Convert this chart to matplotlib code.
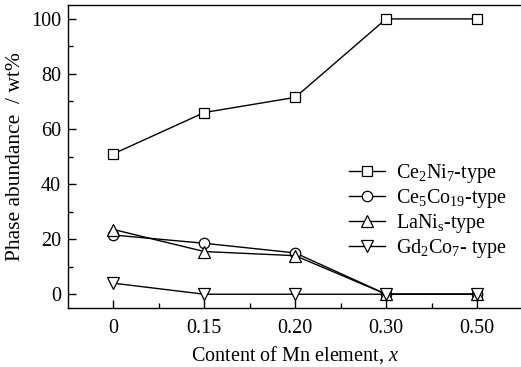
import numpy as np
import matplotlib
matplotlib.use("Agg")
import matplotlib.pyplot as plt
from matplotlib.ticker import MultipleLocator

plt.rcParams["font.family"] = ["Liberation Serif", "DejaVu Serif"]
plt.rcParams["mathtext.fontset"] = "custom"
plt.rcParams["mathtext.rm"] = "Liberation Serif"
plt.rcParams["mathtext.it"] = "Liberation Serif:italic"

# Mn content (categorical axis) and phase abundance in wt%
mn_labels = ["0", "0.15", "0.20", "0.30", "0.50"]
ce2ni7 = [51, 66, 71.5, 100, 100]
ce5co19 = [21.5, 18.5, 15, 0, 0]
lani5 = [23.5, 15.5, 14, 0, 0]
gd2co7 = [4, 0, 0, 0, 0]

series = [
    (ce2ni7, "s", 6.5, r"Ce$_2$Ni$_7$-type"),
    (ce5co19, "o", 7.5, r"Ce$_5$Co$_{19}$-type"),
    (lani5, "^", 8, r"LaNi$_\mathrm{s}$-type"),
    (gd2co7, "v", 8, r"Gd$_2$Co$_7$- type"),
]

fig = plt.figure(figsize=(5.21, 3.67), dpi=100)
ax = fig.add_axes([68 / 521, 0.1608, 454.5 / 521, 0.8252])
x = np.arange(len(mn_labels))

for vals, mk, ms, lab in series:
    ax.plot(x, vals, color="black", lw=1.0, marker=mk, markersize=ms,
            markerfacecolor="white", markeredgecolor="black", markeredgewidth=0.9,
            label=lab)

ax.set_xlim(-0.5, 4.5)
ax.set_xticks(x)
ax.set_xticklabels(mn_labels)
ax.set_xticks(x[:-1] + 0.5, minor=True)
ax.yaxis.set_major_locator(MultipleLocator(20))
ax.yaxis.set_minor_locator(MultipleLocator(10))
ax.set_ylim(-5, 105)
ax.tick_params(which="both", direction="in", labelsize=14.5, width=1.0)
ax.tick_params(which="major", length=6)
ax.tick_params(which="minor", length=3.5)
ax.tick_params(axis="x", pad=8)
ax.tick_params(axis="y", pad=5)
for sp in ax.spines.values():
    sp.set_linewidth(1.0)

ax.set_ylabel("Phase abundance  / wt%", fontsize=15.5)
ax.yaxis.set_label_coords(-0.095, 0.5)
ax.set_xlabel(r"Content of Mn element, $x$", fontsize=14.5, labelpad=4)

ax.legend(loc="upper left", bbox_to_anchor=(0.601, 0.51), frameon=False,
          fontsize=14.5, handlelength=1.8, handletextpad=0.5, labelspacing=0.1,
          borderaxespad=0)

fig.savefig("out.png", dpi=100)
